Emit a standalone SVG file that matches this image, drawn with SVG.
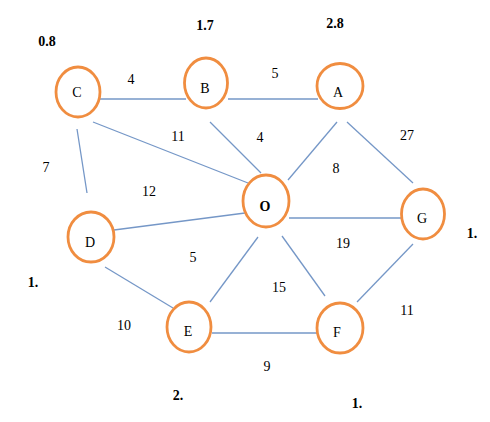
<svg xmlns="http://www.w3.org/2000/svg" width="490" height="422" viewBox="0 0 490 422">
<style>
.n ellipse{fill:#fff;stroke:#f08d40;stroke-width:2.8}
.n text{font-family:"Liberation Serif",serif;font-size:14px;text-anchor:middle;fill:#000}
#edges line{stroke:#7597c7;stroke-width:1.3}
.w{font-family:"Liberation Serif",serif;font-size:14px;text-anchor:middle;fill:#000}
.h{font-family:"Liberation Serif",serif;font-size:14px;font-weight:bold;text-anchor:middle;fill:#000}
</style>
<rect width="490" height="422" fill="#fff"/>
<g id="edges">
<line x1="100" y1="99" x2="186" y2="99"/>
<line x1="228" y1="99" x2="318" y2="99"/>
<line x1="93" y1="122" x2="248" y2="183"/>
<line x1="210" y1="122" x2="261" y2="173"/>
<line x1="77" y1="129" x2="87" y2="193"/>
<line x1="114" y1="230" x2="245" y2="213"/>
<line x1="337" y1="122" x2="288" y2="180"/>
<line x1="347" y1="122" x2="413" y2="183"/>
<line x1="289" y1="218" x2="402" y2="218"/>
<line x1="258" y1="237" x2="210" y2="302"/>
<line x1="282" y1="236" x2="325" y2="296"/>
<line x1="413" y1="244" x2="357" y2="302"/>
<line x1="105" y1="267" x2="173" y2="308"/>
<line x1="212" y1="333" x2="318" y2="333"/>
</g>
<g id="weights">
<text class="w" x="131" y="84">4</text>
<text class="w" x="275" y="78">5</text>
<text class="w" x="178" y="141">11</text>
<text class="w" x="260" y="142">4</text>
<text class="w" x="407" y="140">27</text>
<text class="w" x="336" y="173">8</text>
<text class="w" x="46" y="172">7</text>
<text class="w" x="149" y="196">12</text>
<text class="w" x="193" y="262">5</text>
<text class="w" x="343" y="248">19</text>
<text class="w" x="279" y="292">15</text>
<text class="w" x="124" y="330">10</text>
<text class="w" x="407" y="315">11</text>
<text class="w" x="267" y="371">9</text>
</g>
<g id="heuristics">
<text class="h" x="47" y="46">0.8</text>
<text class="h" x="205" y="30">1.7</text>
<text class="h" x="335" y="28">2.8</text>
<text class="h" x="472" y="238">1.</text>
<text class="h" x="33" y="287">1.</text>
<text class="h" x="178" y="400">2.</text>
<text class="h" x="357" y="408">1.</text>
</g>
<g id="node-C" class="n"><ellipse cx="78" cy="92" rx="22" ry="25"/><text x="77" y="97">C</text></g>
<g id="node-B" class="n"><ellipse cx="206" cy="83" rx="21.5" ry="25"/><text x="205" y="93">B</text></g>
<g id="node-A" class="n"><ellipse cx="340" cy="86" rx="23" ry="22.5"/><text x="338" y="97">A</text></g>
<g id="node-D" class="n"><ellipse cx="91" cy="237" rx="23" ry="25"/><text x="90" y="247">D</text></g>
<g id="node-O" class="n"><ellipse cx="266" cy="201" rx="23" ry="26"/><text x="265" y="211" font-weight="bold">O</text></g>
<g id="node-G" class="n"><ellipse cx="423" cy="214" rx="21.5" ry="25"/><text x="422" y="223">G</text></g>
<g id="node-E" class="n"><ellipse cx="189" cy="327" rx="22" ry="25"/><text x="188" y="336">E</text></g>
<g id="node-F" class="n"><ellipse cx="340" cy="328" rx="23" ry="25"/><text x="337" y="337">F</text></g>
</svg>
